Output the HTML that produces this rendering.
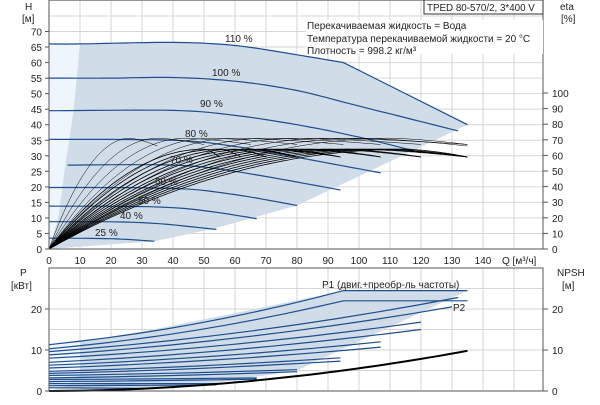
<!DOCTYPE html>
<html><head><meta charset="utf-8"><style>
body{margin:0;background:#fff;width:600px;height:400px;overflow:hidden}
svg text{font-family:"Liberation Sans",sans-serif;font-size:10px;fill:#222}
</style></head><body>
<svg id="s" width="600" height="400" xmlns="http://www.w3.org/2000/svg"></svg>
<script>
const S=document.getElementById('s');let h='';
const X=q=>49+3.1*q, Y=v=>249-3.107*v, YB=p=>391-4.1*p, YE=e=>249-1.56*e;
const pl=(pts,f)=>pts.map(p=>X(p[0]).toFixed(1)+','+f(p[1]).toFixed(1)).join(' ');
// smooth via Catmull-Rom sampling
function smooth(p){let o=[];for(let i=0;i<p.length-1;i++){let a=p[Math.max(i-1,0)],b=p[i],c=p[i+1],d=p[Math.min(i+2,p.length-1)];
for(let t=0;t<1;t+=0.1){let t2=t*t,t3=t2*t;let f=k=>0.5*((2*b[k])+(-a[k]+c[k])*t+(2*a[k]-5*b[k]+4*c[k]-d[k])*t2+(-a[k]+3*b[k]-3*c[k]+d[k])*t3);o.push([f(0),f(1)]);}}
o.push(p[p.length-1]);return o;}
for(let q=0;q<=150;q+=10){if(X(q)<543)h+=`<line x1="${X(q)}" y1="0" x2="${X(q)}" y2="249" stroke="#d6d6d6"/>`;}
for(let v=5;v<=80;v+=5){if(Y(v)>0)h+=`<line x1="49" y1="${Y(v)}" x2="543" y2="${Y(v)}" stroke="#d6d6d6"/>`;}
const c110=smooth([[0,66],[10,66],[40,66.5],[60,65.5],[80,62.5],[95,60]]).concat([[135,40]]);
h+=`<polygon points="${pl(c110.concat([[80,14],[53,6.5],[34,2.5],[0,0]]),Y)}" fill="#d0dce8"/>`;
h+=`<polygon points="${pl([[0,0],[0,66],[10,66],[8,45],[5,25],[3,10]],Y)}" fill="#eef5fc"/>`;
const sp=[c110,
smooth([[0,55],[20,55],[40,55.2],[60,54],[80,51],[100,46],[132,38]]),
smooth([[0,44.5],[40,44.6],[60,43],[80,40],[100,36],[120,31]]),
smooth([[0,35.3],[40,35],[60,33],[80,29.5],[107,24.5]]),
smooth([[6,27],[40,27],[60,25],[94,19]]),
smooth([[0,19.8],[40,19.5],[60,17.5],[80,14]]),
smooth([[0,13.8],[40,13.3],[67,9.8]]),
smooth([[0,8.8],[30,8.5],[54,6.3]]),
smooth([[0,3.5],[20,3.3],[34,2.5]])];
sp.forEach(p=>h+=`<polyline points="${pl(p,Y)}" fill="none" stroke="#1f4e8c" stroke-width="1.2"/>`);
function eta(E,Qp,Qe,w,Ee){let pts=[];for(let q=0;q<=Qe;q+=1){let e=q<Qp?E*(1-Math.pow(1-q/Qp,2)):E-(E-Ee)*Math.pow((q-Qp)/(Qe-Qp),1.5);pts.push([q,e]);}
h+=`<polyline points="${pl(pts,YE)}" fill="none" stroke="#000" stroke-width="${w}"/>`;}
[[71,26,35,66],[71,35,50,67],[71,44,65,67],[71,52,80,67],[71,60,95,67],[71,70,107,67],[71,80,120,67],[71,90,135,67],[71,100,135,66],[71,110,135,67]].forEach(a=>eta(a[0],a[1],a[2],0.5,a[3]));
[[64,50,55],[64,55,62],[64,60,70],[64,65,80],[64,70,94],[64,75,94],[64,80,107],[64,85,107],[64,90,120],[64,95,120],[64,100,135],[64,105,135],[64,110,135],[64,115,135]].forEach(a=>eta(a[0],a[1],a[2],0.8,59));
[['110 %',225,42],['100 %',212,76],['90 %',200,107],['80 %',185,137],['70 %',170,163],['60 %',155,185],['50 %',138,204],['40 %',120,219],['25 %',95,236]].forEach(t=>h+=`<text x="${t[1]}" y="${t[2]}">${t[0]}</text>`);
h+=`<rect x="49" y="0" width="494" height="249" fill="none" stroke="#555"/>`;
for(let v=0;v<=70;v+=5)h+=`<text x="42" y="${Y(v)+4}" text-anchor="end">${v}</text><line x1="45" x2="49" y1="${Y(v)}" y2="${Y(v)}" stroke="#555"/>`;
for(let q=0;q<=140;q+=10)h+=`<text x="${X(q)}" y="264" text-anchor="middle">${q}</text>`;
h+=`<text x="502" y="264">Q [м³/ч]</text>`;
for(let e=0;e<=100;e+=10)h+=`<line x1="543" x2="548" y1="${YE(e)}" y2="${YE(e)}" stroke="#555"/><text x="552" y="${YE(e)+4}">${e}</text>`;
h+=`<text x="25" y="10">H</text><text x="22" y="22">[м]</text><text x="560" y="10">eta</text><text x="561" y="22">[%]</text>`;
h+=`<rect x="424" y="0" width="119" height="14" fill="#fff" stroke="#333"/><text x="427" y="11" style="font-size:9.8px">TPED 80-570/2, 3*400 V</text>`;
h+=`<rect x="306" y="20" width="237" height="34" fill="#fff"/><text x="307" y="29">Перекачиваемая жидкость = Вода</text><text x="307" y="42">Температура перекачиваемой жидкости = 20 °C</text><text x="307" y="54">Плотность = 998.2 кг/м³</text>`;
for(let q=0;q<=150;q+=10){if(X(q)<543)h+=`<line x1="${X(q)}" y1="268" x2="${X(q)}" y2="391" stroke="#d6d6d6"/>`;}
for(let p=5;p<=30;p+=5){if(YB(p)>268)h+=`<line x1="49" y1="${YB(p)}" x2="543" y2="${YB(p)}" stroke="#d6d6d6"/>`;}
h+=`<polygon points="${pl([[0,11.3],[10,12],[30,14.5],[60,19],[95,24.5],[135,24.5],[80,5],[54,2],[34,0.5],[0,0]],YB)}" fill="#d0dce8"/>`;
h+=`<polygon points="${pl([[0,0],[0,11.3],[10,12],[10,4],[5,1]],YB)}" fill="#eef5fc"/>`;
const pw=[[11.3,95,24.5],[10.3,95,22],[9.6,132,22.8],[8.8,130,20.5],[8,120,16.8],[7,120,15],[6.3,107,12],[5.6,107,10.7],[4.8,94,8.1],[4.3,94,7.3],[3.8,80,5.2],[3.2,80,4.7],[2.8,67,3.2],[2.3,67,2.9],[1.8,54,1.8],[1.3,54,1.5],[0.8,34,0.6]];
pw.forEach(a=>{let pts=[];for(let i=0;i<=10;i++){let t=i/10,q=a[1]*t;pts.push([q,a[0]+(a[2]-a[0])*(0.55*t+0.45*t*t)]);}
if(a[1]==95)pts.push([135,a[2]]);h+=`<polyline points="${pl(pts,YB)}" fill="none" stroke="#1f4e8c" stroke-width="1.2"/>`;});
let np=[];for(let q=0;q<=135;q+=3)np.push([q,9.8*Math.pow(q/135,1.9)]);np.push([135,9.8]);
h+=`<polyline points="${pl(np,YB)}" fill="none" stroke="#000" stroke-width="2"/>`;
h+=`<rect x="49" y="268" width="494" height="123" fill="none" stroke="#555"/>`;
[0,10,20].forEach(p=>h+=`<text x="42" y="${YB(p)+4}" text-anchor="end">${p}</text><line x1="45" x2="49" y1="${YB(p)}" y2="${YB(p)}" stroke="#555"/><line x1="543" x2="548" y1="${YB(p)}" y2="${YB(p)}" stroke="#555"/><text x="552" y="${YB(p)+4}">${p}</text>`);
h+=`<text x="20" y="276">P</text><text x="11" y="289">[кВт]</text><text x="557" y="276">NPSH</text><text x="562" y="289">[м]</text>`;
h+=`<text x="322" y="288">P1 (двиг.+преобр-ль частоты)</text><text x="453" y="311">P2</text>`;
S.innerHTML=h;
</script>
</body></html>
